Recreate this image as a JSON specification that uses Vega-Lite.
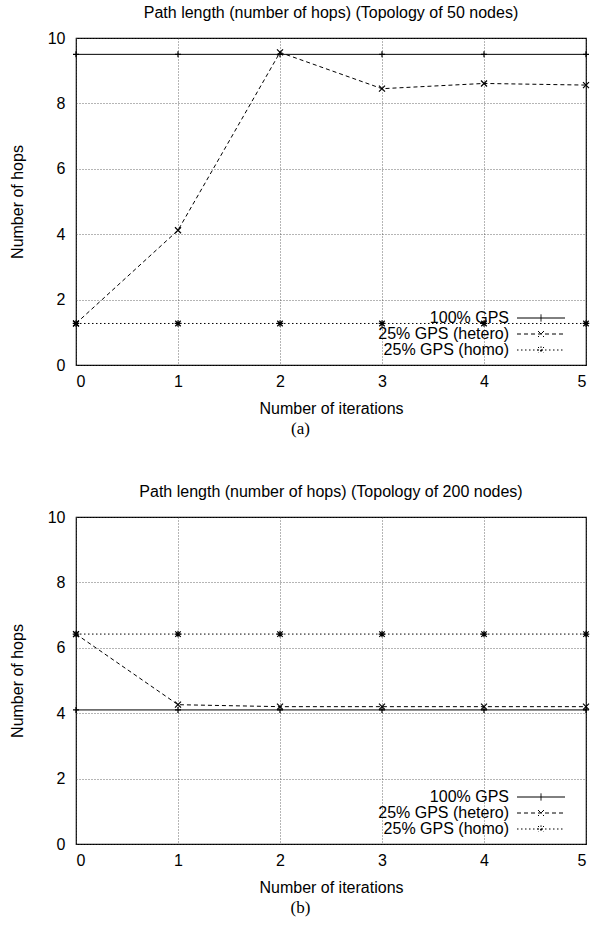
{
  "$schema": "https://vega.github.io/schema/vega-lite/v6.json",
  "background": "white",
  "padding": {"left": 8, "top": 4, "right": 5, "bottom": 5},
  "datasets": {
    "a": [
      {"iter": 0, "series": "100% GPS", "hops": 9.5},
      {"iter": 1, "series": "100% GPS", "hops": 9.5},
      {"iter": 2, "series": "100% GPS", "hops": 9.5},
      {"iter": 3, "series": "100% GPS", "hops": 9.5},
      {"iter": 4, "series": "100% GPS", "hops": 9.5},
      {"iter": 5, "series": "100% GPS", "hops": 9.5},
      {"iter": 0, "series": "25% GPS (hetero)", "hops": 1.27},
      {"iter": 1, "series": "25% GPS (hetero)", "hops": 4.12},
      {"iter": 2, "series": "25% GPS (hetero)", "hops": 9.56},
      {"iter": 3, "series": "25% GPS (hetero)", "hops": 8.45},
      {"iter": 4, "series": "25% GPS (hetero)", "hops": 8.61},
      {"iter": 5, "series": "25% GPS (hetero)", "hops": 8.56},
      {"iter": 0, "series": "25% GPS (homo)", "hops": 1.27},
      {"iter": 1, "series": "25% GPS (homo)", "hops": 1.27},
      {"iter": 2, "series": "25% GPS (homo)", "hops": 1.27},
      {"iter": 3, "series": "25% GPS (homo)", "hops": 1.27},
      {"iter": 4, "series": "25% GPS (homo)", "hops": 1.27},
      {"iter": 5, "series": "25% GPS (homo)", "hops": 1.27}
    ],
    "b": [
      {"iter": 0, "series": "100% GPS", "hops": 4.1},
      {"iter": 1, "series": "100% GPS", "hops": 4.1},
      {"iter": 2, "series": "100% GPS", "hops": 4.1},
      {"iter": 3, "series": "100% GPS", "hops": 4.1},
      {"iter": 4, "series": "100% GPS", "hops": 4.1},
      {"iter": 5, "series": "100% GPS", "hops": 4.1},
      {"iter": 0, "series": "25% GPS (hetero)", "hops": 6.42},
      {"iter": 1, "series": "25% GPS (hetero)", "hops": 4.26},
      {"iter": 2, "series": "25% GPS (hetero)", "hops": 4.2},
      {"iter": 3, "series": "25% GPS (hetero)", "hops": 4.2},
      {"iter": 4, "series": "25% GPS (hetero)", "hops": 4.2},
      {"iter": 5, "series": "25% GPS (hetero)", "hops": 4.2},
      {"iter": 0, "series": "25% GPS (homo)", "hops": 6.42},
      {"iter": 1, "series": "25% GPS (homo)", "hops": 6.42},
      {"iter": 2, "series": "25% GPS (homo)", "hops": 6.42},
      {"iter": 3, "series": "25% GPS (homo)", "hops": 6.42},
      {"iter": 4, "series": "25% GPS (homo)", "hops": 6.42},
      {"iter": 5, "series": "25% GPS (homo)", "hops": 6.42}
    ]
  },
  "config": {
    "font": "Liberation Sans",
    "view": {"stroke": "black", "strokeWidth": 1.2},
    "axis": {
      "labelFont": "Liberation Sans", "labelFontSize": 16, "labelColor": "black",
      "titleFont": "Liberation Sans", "titleFontSize": 16, "titleFontWeight": "normal", "titleColor": "black",
      "grid": true, "gridColor": "#444", "gridDash": [1, 2], "gridWidth": 0.8,
      "domain": false, "ticks": false
    },
    "title": {"font": "Liberation Sans", "fontSize": 16, "fontWeight": "normal", "color": "black"},
    "legend": {
      "title": null, "orient": "bottom-right", "offset": 7, "labelAlign": "right", "labelOffset": -40,
      "labelFont": "Liberation Sans", "labelFontSize": 16, "labelColor": "black", "symbolSize": 144, "symbolStrokeColor": "black",
      "symbolStrokeWidth": 1, "rowPadding": -1, "symbolFillColor": "transparent"
    },
    "concat": {"spacing": 46}
  },
  "resolve": {"scale": {"strokeDash": "independent"}, "legend": {"strokeDash": "independent"}},
  "vconcat": [
    {
      "title": {"text": "(a)", "orient": "bottom", "anchor": "middle", "font": "Liberation Serif", "fontSize": 17, "offset": 4},
      "resolve": {"scale": {"strokeDash": "independent"}, "legend": {"strokeDash": "independent"}},
      "vconcat": [
        {
          "title": {"text": "Path length (number of hops) (Topology of 50 nodes)", "offset": 9},
          "width": 510, "height": 327,
          "data": {"name": "a"},
          "encoding": {
            "x": {"field": "iter", "type": "quantitative", "scale": {"domain": [0, 5], "nice": false},
                  "axis": {"title": "Number of iterations", "values": [0, 1, 2, 3, 4, 5], "labelPadding": 8, "titlePadding": 11}},
            "y": {"field": "hops", "type": "quantitative", "scale": {"domain": [0, 10], "nice": false},
                  "axis": {"title": "Number of hops", "values": [0, 2, 4, 6, 8, 10], "labelPadding": 11, "titlePadding": 22}}
          },
          "layer": [
            {
              "mark": {"type": "line", "color": "black", "strokeWidth": 1},
              "encoding": {
                "strokeDash": {"field": "series", "type": "nominal",
                  "scale": {"domain": ["100% GPS", "25% GPS (hetero)", "25% GPS (homo)"], "range": [[1, 0], [4, 3], [1.5, 2.5]]},
                  "legend": {
                    "encode": {"symbols": {"update": {"shape": {"signal": "indexof(datum.value, 'hetero') >= 0 ? 'M-4,0H4M-0.5,-0.5L0.5,0.5M0.5,-0.5L-0.5,0.5M6,0' : (indexof(datum.value, 'homo') >= 0 ? 'M-4,0H4M-0.5,-0.5L0.5,0.5M0.5,-0.5L-0.5,0.5M0,-0.6V0.6M-0.6,0H0.6M6,0' : 'M-4,0H4M0,-0.6V0.6M6,0')"}}}}}
                }
              }
            },
            {
              "transform": [{"filter": "datum.series == '100% GPS'"}],
              "mark": {"type": "point", "filled": false, "color": "black", "strokeWidth": 1.2, "size": 36, "opacity": 1, "shape": "M-1,0H1M0,-1V1"}
            },
            {
              "transform": [{"filter": "datum.series == '25% GPS (hetero)'"}],
              "mark": {"type": "point", "filled": false, "color": "black", "strokeWidth": 1.2, "size": 36, "opacity": 1, "shape": "M-1,-1L1,1M1,-1L-1,1"}
            },
            {
              "transform": [{"filter": "datum.series == '25% GPS (homo)'"}],
              "mark": {"type": "point", "filled": false, "color": "black", "strokeWidth": 1.2, "size": 30, "opacity": 1, "shape": "M-1,-1L1,1M1,-1L-1,1M0,-1.2V1.2M-1.2,0H1.2"}
            }
          ]
        }
      ]
    },
    {
      "title": {"text": "(b)", "orient": "bottom", "anchor": "middle", "font": "Liberation Serif", "fontSize": 17, "offset": 4},
      "resolve": {"scale": {"strokeDash": "independent"}, "legend": {"strokeDash": "independent"}},
      "vconcat": [
        {
          "title": {"text": "Path length (number of hops) (Topology of 200 nodes)", "offset": 9},
          "width": 510, "height": 327,
          "data": {"name": "b"},
          "encoding": {
            "x": {"field": "iter", "type": "quantitative", "scale": {"domain": [0, 5], "nice": false},
                  "axis": {"title": "Number of iterations", "values": [0, 1, 2, 3, 4, 5], "labelPadding": 8, "titlePadding": 11}},
            "y": {"field": "hops", "type": "quantitative", "scale": {"domain": [0, 10], "nice": false},
                  "axis": {"title": "Number of hops", "values": [0, 2, 4, 6, 8, 10], "labelPadding": 11, "titlePadding": 22}}
          },
          "layer": [
            {
              "mark": {"type": "line", "color": "black", "strokeWidth": 1},
              "encoding": {
                "strokeDash": {"field": "series", "type": "nominal",
                  "scale": {"domain": ["100% GPS", "25% GPS (hetero)", "25% GPS (homo)"], "range": [[1, 0], [4, 3], [1.5, 2.5]]},
                  "legend": {
                    "encode": {"symbols": {"update": {"shape": {"signal": "indexof(datum.value, 'hetero') >= 0 ? 'M-4,0H4M-0.5,-0.5L0.5,0.5M0.5,-0.5L-0.5,0.5M6,0' : (indexof(datum.value, 'homo') >= 0 ? 'M-4,0H4M-0.5,-0.5L0.5,0.5M0.5,-0.5L-0.5,0.5M0,-0.6V0.6M-0.6,0H0.6M6,0' : 'M-4,0H4M0,-0.6V0.6M6,0')"}}}}}
                }
              }
            },
            {
              "transform": [{"filter": "datum.series == '100% GPS'"}],
              "mark": {"type": "point", "filled": false, "color": "black", "strokeWidth": 1.2, "size": 36, "opacity": 1, "shape": "M-1,0H1M0,-1V1"}
            },
            {
              "transform": [{"filter": "datum.series == '25% GPS (hetero)'"}],
              "mark": {"type": "point", "filled": false, "color": "black", "strokeWidth": 1.2, "size": 36, "opacity": 1, "shape": "M-1,-1L1,1M1,-1L-1,1"}
            },
            {
              "transform": [{"filter": "datum.series == '25% GPS (homo)'"}],
              "mark": {"type": "point", "filled": false, "color": "black", "strokeWidth": 1.2, "size": 30, "opacity": 1, "shape": "M-1,-1L1,1M1,-1L-1,1M0,-1.2V1.2M-1.2,0H1.2"}
            }
          ]
        }
      ]
    }
  ]
}
